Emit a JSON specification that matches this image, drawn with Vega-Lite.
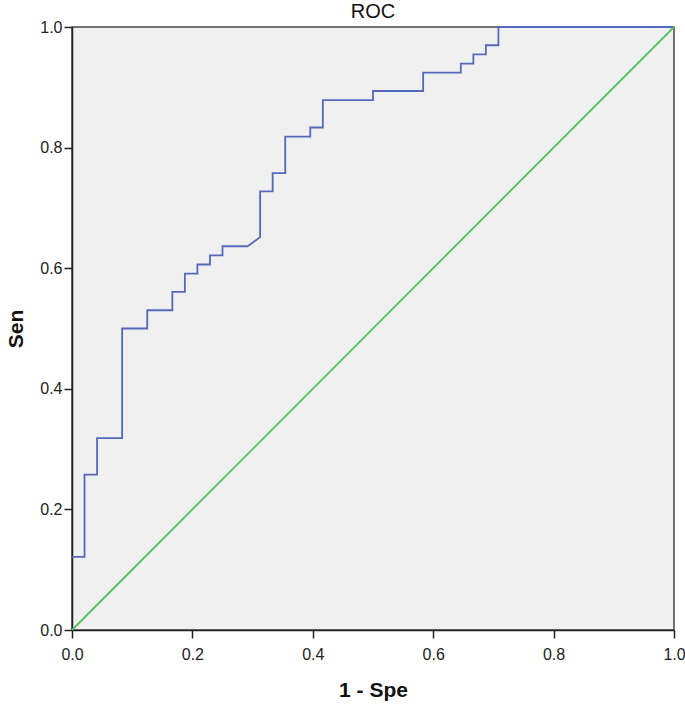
{
  "$schema": "https://vega.github.io/schema/vega-lite/v6.json",
  "width": 602,
  "height": 603,
  "autosize": "none",
  "padding": {"left": 72, "top": 27, "right": 11, "bottom": 74},
  "background": "white",
  "title": {"text": "ROC", "fontSize": 20, "fontWeight": "normal", "font": "Liberation Sans", "color": "#111", "offset": -3, "anchor": "middle"},
  "config": {
    "view": {"fill": "#F0F0F0", "stroke": "#444", "strokeWidth": 1.5},
    "axis": {
      "grid": false,
      "labelFont": "Liberation Sans",
      "labelFontSize": 16,
      "labelColor": "#222",
      "titleFont": "Liberation Sans",
      "titleFontSize": 21,
      "titleFontWeight": "bold",
      "titleColor": "#111",
      "domainColor": "#222",
      "domainWidth": 1.5,
      "tickColor": "#222",
      "tickWidth": 1.5,
      "tickSize": 8
    }
  },
  "data": {
    "values": [
      {"series": "roc", "order": 1, "fpr": 0, "tpr": 0.1212},
      {"series": "roc", "order": 2, "fpr": 0.0208, "tpr": 0.1212},
      {"series": "roc", "order": 3, "fpr": 0.0208, "tpr": 0.2576},
      {"series": "roc", "order": 4, "fpr": 0.0417, "tpr": 0.2576},
      {"series": "roc", "order": 5, "fpr": 0.0417, "tpr": 0.3182},
      {"series": "roc", "order": 6, "fpr": 0.0833, "tpr": 0.3182},
      {"series": "roc", "order": 7, "fpr": 0.0833, "tpr": 0.5},
      {"series": "roc", "order": 8, "fpr": 0.125, "tpr": 0.5},
      {"series": "roc", "order": 9, "fpr": 0.125, "tpr": 0.5303},
      {"series": "roc", "order": 10, "fpr": 0.1667, "tpr": 0.5303},
      {"series": "roc", "order": 11, "fpr": 0.1667, "tpr": 0.5606},
      {"series": "roc", "order": 12, "fpr": 0.1875, "tpr": 0.5606},
      {"series": "roc", "order": 13, "fpr": 0.1875, "tpr": 0.5909},
      {"series": "roc", "order": 14, "fpr": 0.2083, "tpr": 0.5909},
      {"series": "roc", "order": 15, "fpr": 0.2083, "tpr": 0.6061},
      {"series": "roc", "order": 16, "fpr": 0.2292, "tpr": 0.6061},
      {"series": "roc", "order": 17, "fpr": 0.2292, "tpr": 0.6212},
      {"series": "roc", "order": 18, "fpr": 0.25, "tpr": 0.6212},
      {"series": "roc", "order": 19, "fpr": 0.25, "tpr": 0.6364},
      {"series": "roc", "order": 20, "fpr": 0.2917, "tpr": 0.6364},
      {"series": "roc", "order": 21, "fpr": 0.3125, "tpr": 0.6515},
      {"series": "roc", "order": 22, "fpr": 0.3125, "tpr": 0.7273},
      {"series": "roc", "order": 23, "fpr": 0.3333, "tpr": 0.7273},
      {"series": "roc", "order": 24, "fpr": 0.3333, "tpr": 0.7576},
      {"series": "roc", "order": 25, "fpr": 0.3542, "tpr": 0.7576},
      {"series": "roc", "order": 26, "fpr": 0.3542, "tpr": 0.8182},
      {"series": "roc", "order": 27, "fpr": 0.3958, "tpr": 0.8182},
      {"series": "roc", "order": 28, "fpr": 0.3958, "tpr": 0.8333},
      {"series": "roc", "order": 29, "fpr": 0.4167, "tpr": 0.8333},
      {"series": "roc", "order": 30, "fpr": 0.4167, "tpr": 0.8788},
      {"series": "roc", "order": 31, "fpr": 0.5, "tpr": 0.8788},
      {"series": "roc", "order": 32, "fpr": 0.5, "tpr": 0.8939},
      {"series": "roc", "order": 33, "fpr": 0.5833, "tpr": 0.8939},
      {"series": "roc", "order": 34, "fpr": 0.5833, "tpr": 0.9242},
      {"series": "roc", "order": 35, "fpr": 0.6458, "tpr": 0.9242},
      {"series": "roc", "order": 36, "fpr": 0.6458, "tpr": 0.9394},
      {"series": "roc", "order": 37, "fpr": 0.6667, "tpr": 0.9394},
      {"series": "roc", "order": 38, "fpr": 0.6667, "tpr": 0.9545},
      {"series": "roc", "order": 39, "fpr": 0.6875, "tpr": 0.9545},
      {"series": "roc", "order": 40, "fpr": 0.6875, "tpr": 0.9697},
      {"series": "roc", "order": 41, "fpr": 0.7083, "tpr": 0.9697},
      {"series": "roc", "order": 42, "fpr": 0.7083, "tpr": 1},
      {"series": "roc", "order": 43, "fpr": 1, "tpr": 1},
      {"series": "ref", "order": 1, "fpr": 0, "tpr": 0},
      {"series": "ref", "order": 2, "fpr": 1, "tpr": 1}
    ]
  },
  "mark": {"type": "line", "strokeWidth": 1.8, "clip": false},
  "encoding": {
    "x": {
      "field": "fpr", "type": "quantitative", "title": "1 - Spe",
      "scale": {"domain": [0, 1], "nice": false, "zero": false},
      "axis": {"values": [0, 0.2, 0.4, 0.6, 0.8, 1], "format": ".1f", "labelPadding": 8, "titlePadding": 17, "labelFlush": false}
    },
    "y": {
      "field": "tpr", "type": "quantitative", "title": "Sen",
      "scale": {"domain": [0, 1], "nice": false, "zero": false},
      "axis": {"values": [0, 0.2, 0.4, 0.6, 0.8, 1], "format": ".1f", "labelPadding": 2, "titlePadding": 13, "labelFlush": false}
    },
    "color": {
      "field": "series", "type": "nominal", "legend": null,
      "scale": {"domain": ["roc", "ref"], "range": ["#5468BC", "#4EC25E"]}
    },
    "order": {"field": "order", "type": "quantitative"}
  }
}
